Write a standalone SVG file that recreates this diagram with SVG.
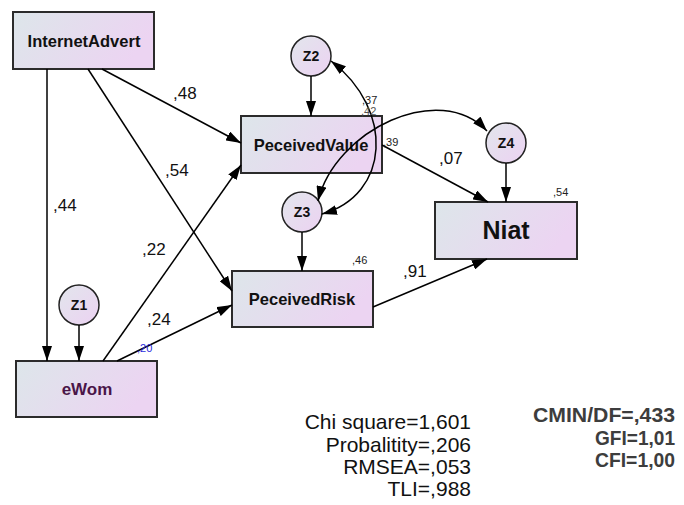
<svg xmlns="http://www.w3.org/2000/svg" width="684" height="505" viewBox="0 0 684 505">
  <style>
    .box { stroke: #2b2b2b; stroke-width: 2; fill: url(#boxFill); }
    .err { stroke: #222; stroke-width: 1.5; fill: url(#circFill); }
    .lbl { font-family: "Liberation Sans", Arial, sans-serif; font-weight: bold; fill: #111; text-anchor: middle; }
    .coef { font-family: "Liberation Sans", Arial, sans-serif; font-size: 17px; fill: #111; }
    .r2 { font-family: "Liberation Sans", Arial, sans-serif; font-size: 11px; fill: #222; }
    .edge { stroke: #000; stroke-width: 1.5; fill: none; marker-end: url(#arrow); }
    .cov { stroke: #000; stroke-width: 1.5; fill: none; marker-start: url(#arrow); marker-end: url(#arrow); }
    .fit { font-family: "Liberation Sans", Arial, sans-serif; font-size: 21px; fill: #111; text-anchor: end; }
    .fit2 { font-family: "Liberation Sans", Arial, sans-serif; font-weight: bold; font-size: 20px; fill: #3d3d3d; text-anchor: end; }
  </style>
  <defs>
    <linearGradient id="boxFill" x1="0" y1="0" x2="1" y2="0.3">
      <stop offset="0" stop-color="#dde6ea"/>
      <stop offset="1" stop-color="#ecd4f2"/>
    </linearGradient>
    <linearGradient id="circFill" x1="0" y1="0" x2="1" y2="1">
      <stop offset="0" stop-color="#e2e6ec"/>
      <stop offset="1" stop-color="#ecd2f2"/>
    </linearGradient>
    <marker id="arrow" markerUnits="userSpaceOnUse" markerWidth="16" markerHeight="10" refX="15" refY="5" orient="auto-start-reverse">
      <path d="M0,0 L15,5 L0,10 z" fill="#000"/>
    </marker>
  </defs>

  <rect width="684" height="505" fill="#fff"/>

  <!-- observed variables -->
  <g id="internetadvert">
    <rect class="box" x="13" y="12" width="141" height="57"/>
    <text class="lbl" x="84" y="47" font-size="16.5">InternetAdvert</text>
  </g>
  <g id="peceivedvalue">
    <rect class="box" x="241" y="116" width="141" height="57"/>
    <text class="lbl" x="311" y="151" font-size="16.5">PeceivedValue</text>
  </g>
  <g id="peceivedrisk">
    <rect class="box" x="232" y="271" width="141" height="56"/>
    <text class="lbl" x="302" y="305" font-size="16.5">PeceivedRisk</text>
  </g>
  <g id="niat">
    <rect class="box" x="435" y="202" width="142" height="57"/>
    <text class="lbl" x="506" y="239" font-size="25">Niat</text>
  </g>
  <g id="ewom">
    <rect class="box" x="16" y="361" width="141" height="56"/>
    <text class="lbl" x="87" y="395" font-size="17" style="fill:#4a1548">eWom</text>
  </g>

  <!-- residual terms -->
  <g id="z1">
    <circle class="err" cx="79" cy="305" r="20"/>
    <text class="lbl" x="79" y="310" font-size="14">Z1</text>
  </g>
  <g id="z2">
    <circle class="err" cx="311" cy="56" r="20"/>
    <text class="lbl" x="311" y="61" font-size="14">Z2</text>
  </g>
  <g id="z3">
    <circle class="err" cx="302" cy="212" r="20"/>
    <text class="lbl" x="302" y="217" font-size="14">Z3</text>
  </g>
  <g id="z4">
    <circle class="err" cx="506" cy="143" r="20"/>
    <text class="lbl" x="506" y="148" font-size="14">Z4</text>
  </g>

  <!-- connectors, drawn over the nodes so the covariance arcs show through -->
  <g id="connectors">
    <line class="edge" x1="47" y1="69" x2="47" y2="361"/>
    <line class="edge" x1="102" y1="69" x2="241" y2="143"/>
    <line class="edge" x1="88" y1="69" x2="232" y2="291"/>
    <line class="edge" x1="103" y1="361" x2="241" y2="165"/>
    <line class="edge" x1="117" y1="361" x2="232" y2="305"/>
    <line class="edge" x1="79" y1="325" x2="79" y2="361"/>
    <line class="edge" x1="311" y1="76" x2="311" y2="116"/>
    <line class="edge" x1="302" y1="232" x2="302" y2="271"/>
    <line class="edge" x1="506" y1="163" x2="506" y2="202"/>
    <line class="edge" x1="382" y1="145" x2="488" y2="202"/>
    <line class="edge" x1="373" y1="307" x2="487" y2="259"/>
    <path class="cov" d="M331,61 C395,110 390,195 322,214"/>
    <path class="cov" d="M318,201 C335,130 440,80 487,131"/>
  </g>

  <!-- path coefficients -->
  <g id="coefficients">
    <text class="coef" x="173" y="99">,48</text>
    <text class="coef" x="165" y="176">,54</text>
    <text class="coef" x="53" y="211">,44</text>
    <text class="coef" x="142" y="255">,22</text>
    <text class="coef" x="147" y="325">,24</text>
    <text class="coef" x="403" y="277">,91</text>
    <text class="coef" x="439" y="164">,07</text>
  </g>

  <!-- squared multiple correlations and covariances -->
  <g id="estimates">
    <text class="r2" x="362" y="103.5" font-size="10.5">,37</text>
    <text class="r2" x="361" y="115" font-size="10.5" style="fill:#555">,42</text>
    <text class="r2" x="383" y="146">,39</text>
    <text class="r2" x="553" y="196">,54</text>
    <text class="r2" x="352" y="264">,46</text>
    <text class="r2" x="137" y="352" font-size="12" style="fill:#2b2bdc">,20</text>
  </g>

  <!-- model fit -->
  <g id="fit-left">
    <text class="fit" x="471" y="429">Chi square=1,601</text>
    <text class="fit" x="471" y="451.5">Probalitity=,206</text>
    <text class="fit" x="471" y="474">RMSEA=,053</text>
    <text class="fit" x="471" y="496">TLI=,988</text>
  </g>
  <g id="fit-right">
    <text class="fit2" x="675" y="422" textLength="142" lengthAdjust="spacingAndGlyphs">CMIN/DF=,433</text>
    <text class="fit2" x="675" y="444.5" textLength="80" lengthAdjust="spacingAndGlyphs">GFI=1,01</text>
    <text class="fit2" x="675" y="467" textLength="80" lengthAdjust="spacingAndGlyphs">CFI=1,00</text>
  </g>
</svg>
